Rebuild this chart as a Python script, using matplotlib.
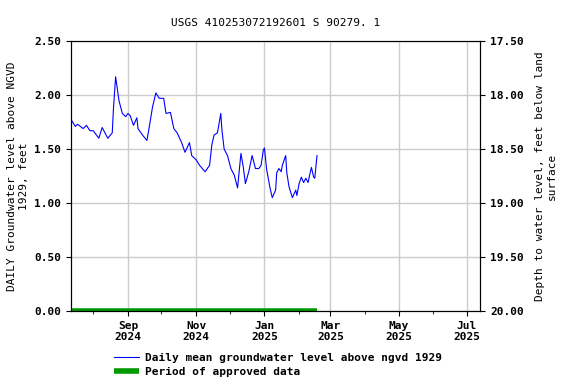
import datetime as dt
import matplotlib
matplotlib.use("Agg")
import matplotlib.pyplot as plt
import matplotlib.dates as mdates

# days after 2024-07-12 and daily mean level (ft above NGVD 1929)
day_offsets = [1, 4, 6, 11, 14, 17, 20, 25, 28, 33, 37, 38, 40, 43, 46, 49, 51, 53,
               56, 59, 60, 64, 68, 70, 73, 76, 79, 83, 85, 89, 92, 95, 99, 102, 106,
               108, 112, 115, 120, 124, 126, 128, 131, 134, 135, 137, 140, 143, 146,
               149, 152, 154, 156, 159, 162, 165, 168, 170, 172, 173, 175, 178, 180,
               183, 184, 186, 188, 189, 192, 193, 195, 198, 201, 202, 204, 206, 208,
               210, 212, 213, 215, 217, 218, 220]
levels = [1.76, 1.71, 1.73, 1.69, 1.72, 1.67, 1.67, 1.60, 1.70, 1.60, 1.65, 1.86, 2.17,
          1.95, 1.83, 1.80, 1.83, 1.81, 1.72, 1.79, 1.69, 1.63, 1.58, 1.70, 1.89, 2.02,
          1.97, 1.97, 1.83, 1.84, 1.69, 1.65, 1.56, 1.47, 1.56, 1.44, 1.40, 1.35, 1.29,
          1.35, 1.54, 1.63, 1.65, 1.83, 1.68, 1.50, 1.44, 1.32, 1.26, 1.14, 1.46, 1.34,
          1.18, 1.29, 1.44, 1.32, 1.32, 1.35, 1.49, 1.51, 1.31, 1.14, 1.05, 1.12, 1.28,
          1.32, 1.29, 1.35, 1.44, 1.28, 1.15, 1.05, 1.12, 1.07, 1.18, 1.24, 1.19, 1.23,
          1.19, 1.24, 1.33, 1.24, 1.23, 1.44]

base = dt.datetime(2024, 7, 12)
dates = [base + dt.timedelta(days=d) for d in day_offsets]
approved_start = base
approved_end = base + dt.timedelta(days=220)

font = "DejaVu Sans Mono"
plt.rcParams["font.family"] = font
plt.rcParams["font.weight"] = "bold"
plt.rcParams["font.size"] = 8

fig = plt.figure(figsize=(5.76, 3.84), dpi=100)
ax = fig.add_axes([0.123, 0.19, 0.711, 0.703])

ax.plot(dates, levels, color="#0000ff", lw=0.8,
        label="Daily mean groundwater level above ngvd 1929")
ax.plot([approved_start, approved_end], [0, 0], color="#009900", lw=4,
        solid_capstyle="butt", label="Period of approved data")

ax.set_xlim(dt.datetime(2024, 7, 12), dt.datetime(2025, 7, 13))
ax.set_ylim(0, 2.5)
ax.set_yticks([0, 0.5, 1.0, 1.5, 2.0, 2.5])
ax.set_yticklabels([f"{v:.2f}" for v in [0, 0.5, 1.0, 1.5, 2.0, 2.5]])

ax.xaxis.set_major_locator(mdates.MonthLocator(bymonth=[1, 3, 5, 7, 9, 11]))
ax.xaxis.set_major_formatter(mdates.DateFormatter("%b\n%Y"))
ax.xaxis.set_minor_locator(mdates.MonthLocator())
ax.tick_params(axis="x", which="minor", length=2)
ax.grid(True, color="#cccccc", lw=1)
ax.set_axisbelow(True)

ax.set_ylabel("DAILY Groundwater level above NGVD\n1929, feet")
ax.set_title("USGS 410253072192601 S 90279. 1", fontsize=8, pad=11)

ax2 = ax.twinx()
ax2.set_ylim(20.0, 17.5)
ax2.set_yticks([17.5, 18.0, 18.5, 19.0, 19.5, 20.0])
ax2.set_yticklabels([f"{v:.2f}" for v in [17.5, 18.0, 18.5, 19.0, 19.5, 20.0]])
ax2.set_ylabel("Depth to water level, feet below land\nsurface", labelpad=8)

fig.legend(loc="upper left", bbox_to_anchor=(0.19, 0.092), frameon=False,
           handlelength=2.3, handletextpad=0.5, borderaxespad=0, labelspacing=0.3)

fig.savefig("out.png", dpi=100)
